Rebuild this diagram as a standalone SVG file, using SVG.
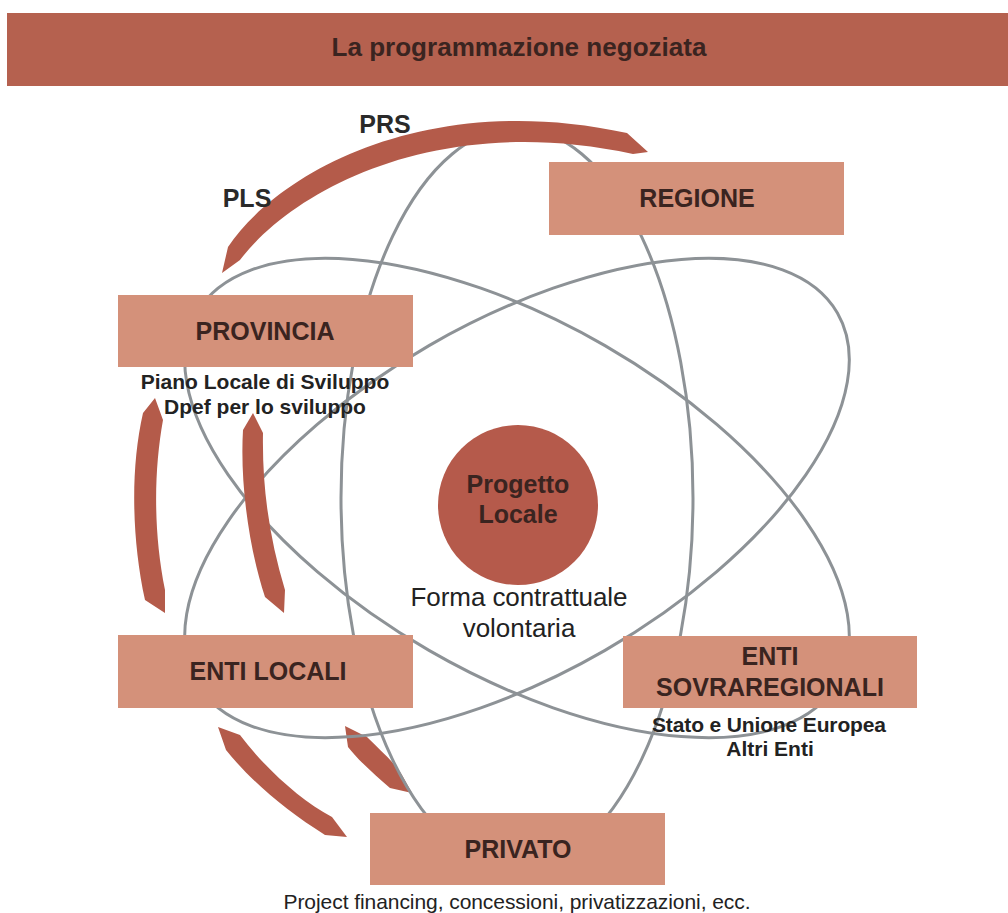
<svg xmlns="http://www.w3.org/2000/svg" width="1008" height="913" viewBox="0 0 1008 913">
<style>
.orbit{fill:none;stroke:#8d9296;stroke-width:3}
.box{fill:#d4917a}
.band{fill:#b45b4a}
.bt{font-family:"Liberation Sans",Arial,sans-serif;font-weight:bold;font-size:25px;fill:#3a2420;text-anchor:middle}
.lbl{font-family:"Liberation Sans",Arial,sans-serif;font-weight:bold;font-size:21px;fill:#222;text-anchor:middle}
.big{font-family:"Liberation Sans",Arial,sans-serif;font-weight:bold;font-size:25px;fill:#2a2a2a;text-anchor:middle}
.reg{font-family:"Liberation Sans",Arial,sans-serif;font-size:26px;fill:#222;text-anchor:middle}
</style>
<rect width="1008" height="913" fill="#ffffff"/>
<g id="header">
<rect x="7" y="13" width="1001" height="73" fill="#b5614f"/>
<text x="519" y="56" class="bt" textLength="375" lengthAdjust="spacingAndGlyphs">La programmazione negoziata</text>
</g>
<g id="arc-bottom-inner"><path class="band" d="M345,726 L367,737 C380,750 395,763 402,775 L412,793 L390,788 C375,775 358,760 348,747 Z"/></g>
<g id="connectors">
<ellipse class="orbit" cx="517" cy="498" rx="370" ry="176" transform="rotate(90 517 498)"/>
<ellipse class="orbit" cx="517" cy="498" rx="370" ry="176" transform="rotate(30 517 498)"/>
<ellipse class="orbit" cx="517" cy="498" rx="370" ry="176" transform="rotate(-30 517 498)"/>
</g>
<g id="arcs">
<path class="band" d="M222,273 L228,247 C280,170 430,90 627,133 L648,152 L633,154 C440,112 295,188 240,260 Z"/>
<path class="band" d="M155,398 L163,420 C154,470 153,530 165,590 L165,613 L145,600 C132,540 130,470 143,413 Z"/>
<path class="band" d="M253,413 L263,433 C262,490 270,540 285,590 L284,613 L265,597 C248,545 240,480 243,430 Z"/>
<path class="band" d="M218,727 L240,735 C265,768 300,800 332,817 L347,837 L325,835 C285,810 250,780 226,750 Z"/>
</g>
<g id="labels-prs">
<text x="385" y="133" class="big">PRS</text>
<text x="247" y="207" class="big">PLS</text>
</g>
<g id="regione">
<rect class="box" x="549" y="162" width="295" height="73"/>
<text x="697" y="207" class="bt">REGIONE</text>
</g>
<g id="provincia">
<rect class="box" x="118" y="295" width="295" height="72"/>
<text x="265" y="340" class="bt">PROVINCIA</text>
<text x="265" y="389" class="lbl">Piano Locale di Sviluppo</text>
<text x="265" y="414" class="lbl">Dpef per lo sviluppo</text>
</g>
<g id="progetto">
<circle cx="518" cy="505" r="80" fill="#b55a4b"/>
<text x="518" y="493" class="bt" fill="#4a2a25">Progetto</text>
<text x="518" y="523" class="bt" fill="#4a2a25">Locale</text>
<text x="519" y="606" class="reg" textLength="217">Forma contrattuale</text>
<text x="519" y="637" class="reg">volontaria</text>
</g>
<g id="enti-locali">
<rect class="box" x="118" y="635" width="295" height="73"/>
<text x="268" y="680" class="bt">ENTI LOCALI</text>
</g>
<g id="enti-sovraregionali">
<rect class="box" x="623" y="636" width="294" height="72"/>
<text x="770" y="665" class="bt">ENTI</text>
<text x="770" y="696" class="bt">SOVRAREGIONALI</text>
<text x="769" y="732" class="lbl" textLength="234">Stato e Unione Europea</text>
<text x="770" y="756" class="lbl">Altri Enti</text>
</g>
<g id="privato">
<rect class="box" x="370" y="813" width="295" height="72"/>
<text x="518" y="858" class="bt">PRIVATO</text>
<text x="517" y="909" class="reg" style="font-size:21px" textLength="467">Project financing, concessioni, privatizzazioni, ecc.</text>
</g>
</svg>
